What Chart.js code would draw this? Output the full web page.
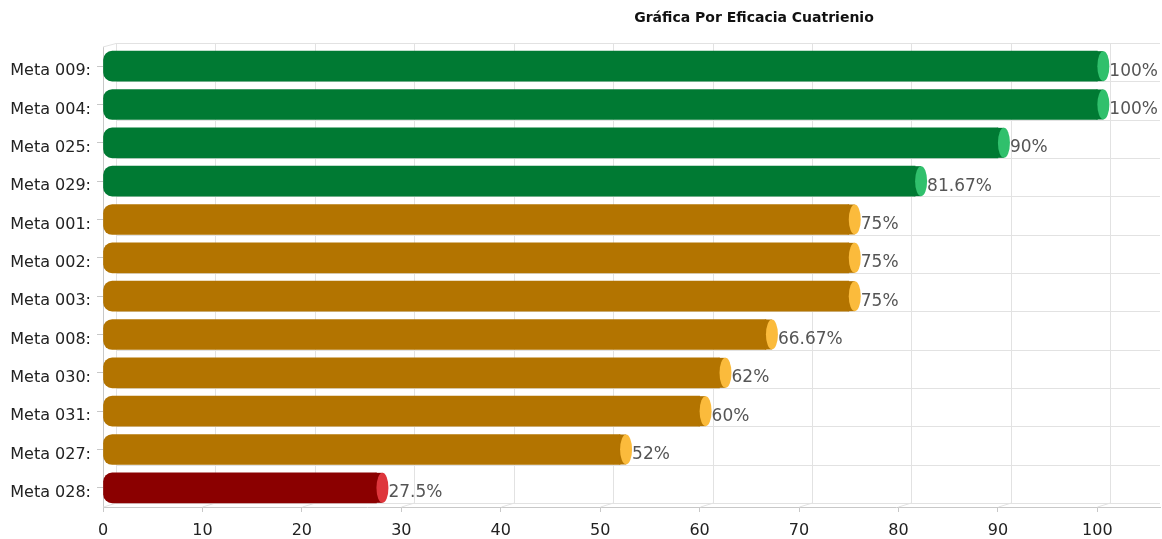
<!DOCTYPE html>
<html>
<head>
<meta charset="utf-8">
<script src="https://cdn.jsdelivr.net/npm/chart.js@4/dist/chart.umd.min.js"></script>
<style>
  html, body { margin: 0; padding: 0; background: #fff; }
  #wrap { position: relative; width: 1162px; height: 539px; }
  #title { position: absolute; left: 554px; width: 400px; top: 9px; text-align: center;
           font: bold 14px "DejaVu Sans", Verdana, sans-serif; color: #111; }
  canvas { position: absolute; left: 0; top: 0; }
</style>
</head>
<body>
<div id="wrap">
  <canvas id="c" width="1162" height="539"></canvas>
  <div id="title">Gráfica Por Eficacia Cuatrienio</div>
</div>
<script>
const categories = ['Meta 009:', 'Meta 004:', 'Meta 025:', 'Meta 029:', 'Meta 001:', 'Meta 002:',
                    'Meta 003:', 'Meta 008:', 'Meta 030:', 'Meta 031:', 'Meta 027:', 'Meta 028:'];
const values = [100, 100, 90, 81.67, 75, 75, 75, 66.67, 62, 60, 52, 27.5];
const valueLabels = ['100%', '100%', '90%', '81.67%', '75%', '75%', '75%', '66.67%', '62%', '60%', '52%', '27.5%'];
const xTicks = [0, 10, 20, 30, 40, 50, 60, 70, 80, 90, 100];

function bodyColor(v) { return v >= 80 ? '#007A33' : (v >= 50 ? '#B37400' : '#8B0000'); }
function capColor(v) { return v >= 80 ? '#30C06C' : (v >= 50 ? '#FBBB3C' : '#DE363C'); }

const DX = 13, DY = 4;
const FONT = "'DejaVu Sans', Verdana, sans-serif";

const grid3d = {
  id: 'grid3d',
  beforeDatasetsDraw(chart) {
    const { ctx, chartArea: a, scales } = chart;
    const xs = scales.x, ys = scales.y;
    ctx.save();
    ctx.lineWidth = 1;
    ctx.strokeStyle = '#e2e2e2';
    ctx.beginPath();
    xTicks.forEach(v => {
      const px = Math.round(xs.getPixelForValue(v)) + 0.5;
      ctx.moveTo(px, a.bottom);
      ctx.lineTo(px + DX, a.bottom - DY);
      ctx.lineTo(px + DX, a.top - DY);
    });
    ctx.moveTo(a.left + DX, a.bottom - DY + 0.5);
    ctx.lineTo(a.right, a.bottom - DY + 0.5);
    ctx.moveTo(a.left, a.top);
    ctx.lineTo(a.left + DX, a.top - DY + 0.5);
    ctx.lineTo(a.right, a.top - DY + 0.5);
    for (let i = 1; i < categories.length; i++) {
      const yb = Math.round((ys.getPixelForValue(i - 1) + ys.getPixelForValue(i)) / 2) - DY + 0.5;
      ctx.moveTo(a.left + DX, yb);
      ctx.lineTo(a.right, yb);
    }
    ctx.stroke();
    ctx.restore();
  },
  afterDatasetsDraw(chart) {
    const { ctx } = chart;
    const meta = chart.getDatasetMeta(0);
    ctx.save();
    meta.data.forEach((bar, i) => {
      const v = values[i];
      const h = bar.height;
      const x = bar.x, y = bar.y;
      const rx = 6;
      ctx.fillStyle = bodyColor(v);
      ctx.fillRect(x - 1, y - h / 2, rx + 1, h);
      ctx.beginPath();
      ctx.ellipse(x + rx, y, rx, h / 2, 0, 0, Math.PI * 2);
      ctx.fillStyle = capColor(v);
      ctx.fill();
      ctx.font = '17px ' + FONT;
      ctx.fillStyle = '#555';
      ctx.textBaseline = 'middle';
      ctx.textAlign = 'left';
      ctx.fillText(valueLabels[i], x + 2 * rx, y + 5);
    });
    ctx.restore();
  }
};

new Chart(document.getElementById('c'), {
  type: 'bar',
  data: {
    labels: categories,
    datasets: [{
      data: values,
      backgroundColor: values.map(bodyColor),
      borderWidth: 0,
      borderSkipped: false,
      borderRadius: { topLeft: 9, bottomLeft: 9, topRight: 0, bottomRight: 0 },
      barThickness: 30
    }]
  },
  options: {
    indexAxis: 'y',
    responsive: false,
    animation: false,
    layout: { padding: { top: 47, right: 2, left: 0, bottom: 0 } },
    plugins: {
      legend: { display: false },
      title: { display: false },
      tooltip: { enabled: false }
    },
    scales: {
      x: {
        type: 'linear',
        min: 0,
        max: 106.3,
        afterFit(s) { s.height = 32; },
        border: { display: true, color: '#c8c8c8' },
        grid: { drawOnChartArea: false, drawTicks: true, tickLength: 5, color: '#c8c8c8' },
        ticks: {
          stepSize: 10,
          includeBounds: false,
          color: '#222',
          font: { family: FONT, size: 16 },
          padding: 9,
          maxRotation: 0
        }
      },
      y: {
        afterFit(s) { s.width = 103; },
        border: { display: true, color: '#c8c8c8' },
        grid: { drawOnChartArea: false, drawTicks: true, tickLength: 6, color: '#c8c8c8', offset: false },
        ticks: {
          color: '#222',
          font: { family: FONT, size: 16 },
          padding: 6,
          labelOffset: 5
        }
      }
    }
  },
  plugins: [grid3d]
});
</script>
</body>
</html>
